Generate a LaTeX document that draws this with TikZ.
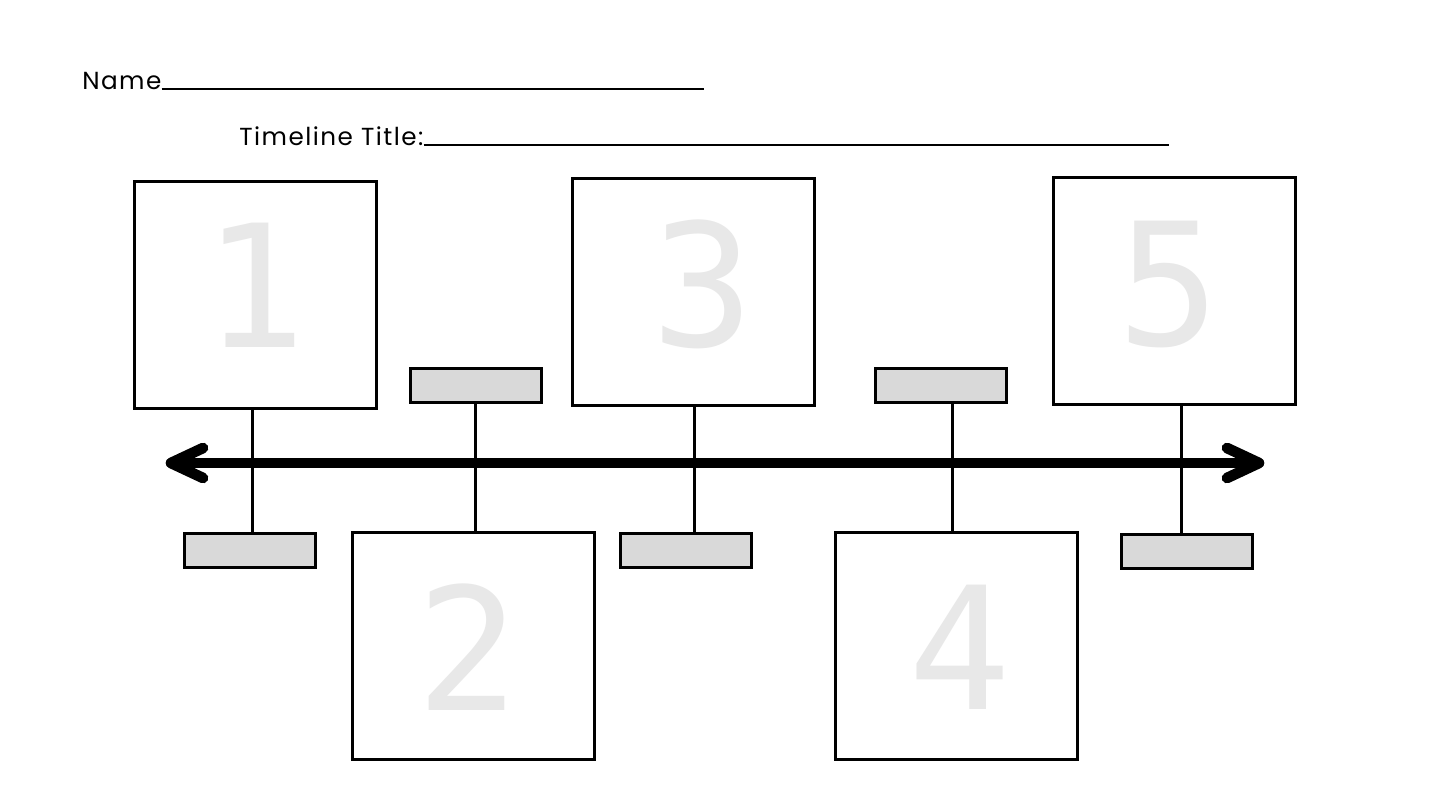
\documentclass[tikz,border=0pt]{standalone}
\usepackage{fontspec}
\setmainfont[LetterSpace=6]{Poppins}
\newfontfamily\digitfont{DejaVu Sans Mono}
\usetikzlibrary{calc}
\definecolor{boxgray}{HTML}{D9D9D9}
\definecolor{numgray}{HTML}{E8E8E8}
\begin{document}
\begin{tikzpicture}[x=0.75pt,y=-0.75pt,
  bigbox/.style={draw, line width=2.25pt, fill=white, inner sep=0pt, minimum width=181.5pt, minimum height=170.25pt},
  datebox/.style={draw, line width=2.25pt, fill=boxgray, inner sep=0pt, minimum width=98.25pt, minimum height=25.5pt},
  digit/.style={text=numgray, inner sep=0pt, font=\digitfont\fontsize{128}{128}\selectfont},
  stem/.style={line width=2.25pt},
  axis/.style={line width=7.5pt},
  chev/.style={line width=8pt, line cap=round, line join=round},
  label/.style={inner sep=0pt, font=\fontsize{18.5}{22}\selectfont},
  rule/.style={line width=1.5pt}]
\useasboundingbox (0,0) rectangle (1440,810);
\fill[white] (0,0) rectangle (1440,810);

% header
\node[label, anchor=base west] (name) at (82,89) {Name};
\coordinate (nameend) at (704,89);
\draw[rule] (name.base east) -- (nameend);
\node[label, anchor=base west] (title) at (239,145) {Timeline Title:};
\coordinate (titleend) at (1169,145);
\draw[rule] (title.base east) -- (titleend);

% big boxes
\node[bigbox] (b1) at (255,294.5) {};
\node[bigbox] (b3) at (693,291.5) {};
\node[bigbox] (b5) at (1174.5,290.5) {};
\node[bigbox] (b2) at (473,646) {};
\node[bigbox] (b4) at (956,646) {};

% digits
\node[digit] (d1) at (255,285) {1};
\node[digit] (d3) at (703,284) {3};
\node[digit] (d5) at (1169,284) {5};
\node[digit] (d2) at (468,647) {2};
\node[digit] (d4) at (960,647) {4};

% date boxes
\node[datebox] (t2) at (475.5,385) {};
\node[datebox] (t4) at (941,385) {};
\node[datebox] (g1) at (249.5,550) {};
\node[datebox] (g3) at (685.5,550) {};
\node[datebox] (g5) at (1187,551) {};

% stems
\draw[stem] ([xshift=-2.25pt]b1.south) -- ([xshift=-2.25pt]b1.south |- g1.north);
\draw[stem] (t2.south) -- (t2.south |- b2.north);
\draw[stem] ([xshift=0.75pt]b3.south) -- ([xshift=0.75pt]b3.south |- g3.north);
\draw[stem] ([xshift=-3pt]b4.north) -- ([xshift=-3pt]b4.north |- t4.south);
\draw[stem] ([xshift=4.9pt]b5.south) -- ([xshift=4.9pt]b5.south |- g5.north);

% axis
\coordinate (L) at (171,463);
\coordinate (R) at (1259,463);
\draw[axis] (L) -- (R);
\draw[chev] ($(L)+(32,-15)$) -- (L) -- ($(L)+(32,15)$);
\draw[chev] ($(R)+(-32,-15)$) -- (R) -- ($(R)+(-32,15)$);
\end{tikzpicture}
\end{document}
